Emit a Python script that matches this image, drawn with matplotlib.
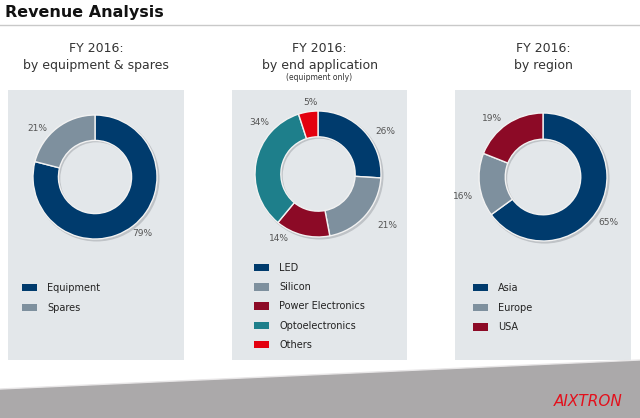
import matplotlib
matplotlib.use("Agg")
import matplotlib.pyplot as plt
import numpy as np
from matplotlib.patches import Rectangle, Polygon

W, H = 640, 418

# colours
C_BLUE = "#003b6d"
C_GREY = "#7e909e"
C_WINE = "#8c0a26"
C_TEAL = "#1e7f8b"
C_RED = "#e3000f"
PANEL = "#e3e7ea"

# data
eq_labels = ["Equipment", "Spares"]
eq_values = [79, 21]

app_labels = ["LED", "Silicon", "Power Electronics", "Optoelectronics", "Others"]
app_values = [26, 21, 14, 34, 5]

reg_labels = ["Asia", "Europe", "USA"]
reg_values = [65, 16, 19]

# where the % labels sit round each ring (angle in degrees, distance in radii)
eq_lab_pos = [(-50, 1.19), (140, 1.22)]
app_lab_pos = [(32, 1.27), (-37, 1.37), (-121, 1.2), (139, 1.24), (96, 1.14)]
reg_lab_pos = [(-35, 1.24), (194, 1.28), (131, 1.22)]

fig = plt.figure(figsize=(W / 100, H / 100), dpi=100)
bg = fig.add_axes([0, 0, 1, 1])
bg.set_xlim(0, W)
bg.set_ylim(H, 0)
bg.axis("off")

# header
bg.text(5, 12, "Revenue Analysis", fontsize=11.5, fontweight="bold", color="#111111", va="center")
bg.plot([0, W], [25, 25], color="#c9c9c9", lw=1)

# panels: (left, right)
panels = [(8, 184), (232, 407), (455, 631)]
for l, r in panels:
    bg.add_patch(Rectangle((l, 90), r - l, 270, color=PANEL, lw=0))

titles = [
    ("FY 2016:", "by equipment & spares", None),
    ("FY 2016:", "by end application", "(equipment only)"),
    ("FY 2016:", "by region", None),
]
for (l, r), (t1, t2, t3) in zip(panels, titles):
    cx = (l + r) / 2
    bg.text(cx, 49, t1, fontsize=9, color="#333333", ha="center", va="center")
    bg.text(cx, 66, t2, fontsize=9, color="#333333", ha="center", va="center")
    if t3:
        bg.text(cx, 77, t3, fontsize=5.5, color="#333333", ha="center", va="center")

# bottom brushed band
bg.add_patch(Polygon([(0, 389), (W, 360), (W, H), (0, H)], closed=True, color="#aba9aa", lw=0))
bg.plot([0, W], [389, 360], color="#e8e6e7", lw=1)
bg.text(623, 402, "AIXTRON", fontsize=11, style="italic", color="#e3101c", ha="right", va="center")


def donut(cx, cy, r, values, colors, lab_pos, lim=1.5):
    size = 2 * r * lim
    ax = fig.add_axes([(cx - size / 2) / W, (H - cy - size / 2) / H, size / W, size / H])
    # soft drop shadow
    ax.pie([1], colors=["#bfc3c7"], radius=1.015, center=(0.025, -0.025),
           wedgeprops=dict(width=0.43, linewidth=0))
    wedges, _, pcts = ax.pie(
        values, colors=colors, startangle=90, counterclock=False, radius=1,
        wedgeprops=dict(width=0.41, edgecolor="#f2f2f2", linewidth=1),
        autopct=lambda p: f"{p:.0f}%", pctdistance=1.2,
        textprops=dict(fontsize=6.5, color="#555555"),
    )
    for t, (ang, dist) in zip(pcts, lab_pos):
        a = np.deg2rad(ang)
        t.set_position((dist * np.cos(a), dist * np.sin(a)))
    ax.set_xlim(-lim, lim)
    ax.set_ylim(-lim, lim)
    ax.set_aspect("equal")
    ax.axis("off")
    return wedges


def legend(wedges, labels, x, y, spacing):
    leg = fig.legend(
        wedges, labels, loc="upper left", bbox_to_anchor=(x / W, 1 - y / H),
        frameon=False, fontsize=7, handlelength=1.5, handleheight=0.8,
        handletextpad=1.1, labelspacing=spacing, borderpad=0, borderaxespad=0,
    )
    for t in leg.get_texts():
        t.set_color("#222222")
    for h in leg.legend_handles:
        h.set_edgecolor("none")


w1 = donut(95, 177, 62, eq_values, [C_BLUE, C_GREY], eq_lab_pos)
legend(w1, eq_labels, 22, 283, 1.0)

w2 = donut(318, 174, 63, app_values, [C_BLUE, C_GREY, C_WINE, C_TEAL, C_RED], app_lab_pos)
legend(w2, app_labels, 254, 263, 0.95)

w3 = donut(543, 177, 64, reg_values, [C_BLUE, C_GREY, C_WINE], reg_lab_pos)
legend(w3, reg_labels, 473, 283, 1.0)

fig.savefig("out.png", dpi=100)
